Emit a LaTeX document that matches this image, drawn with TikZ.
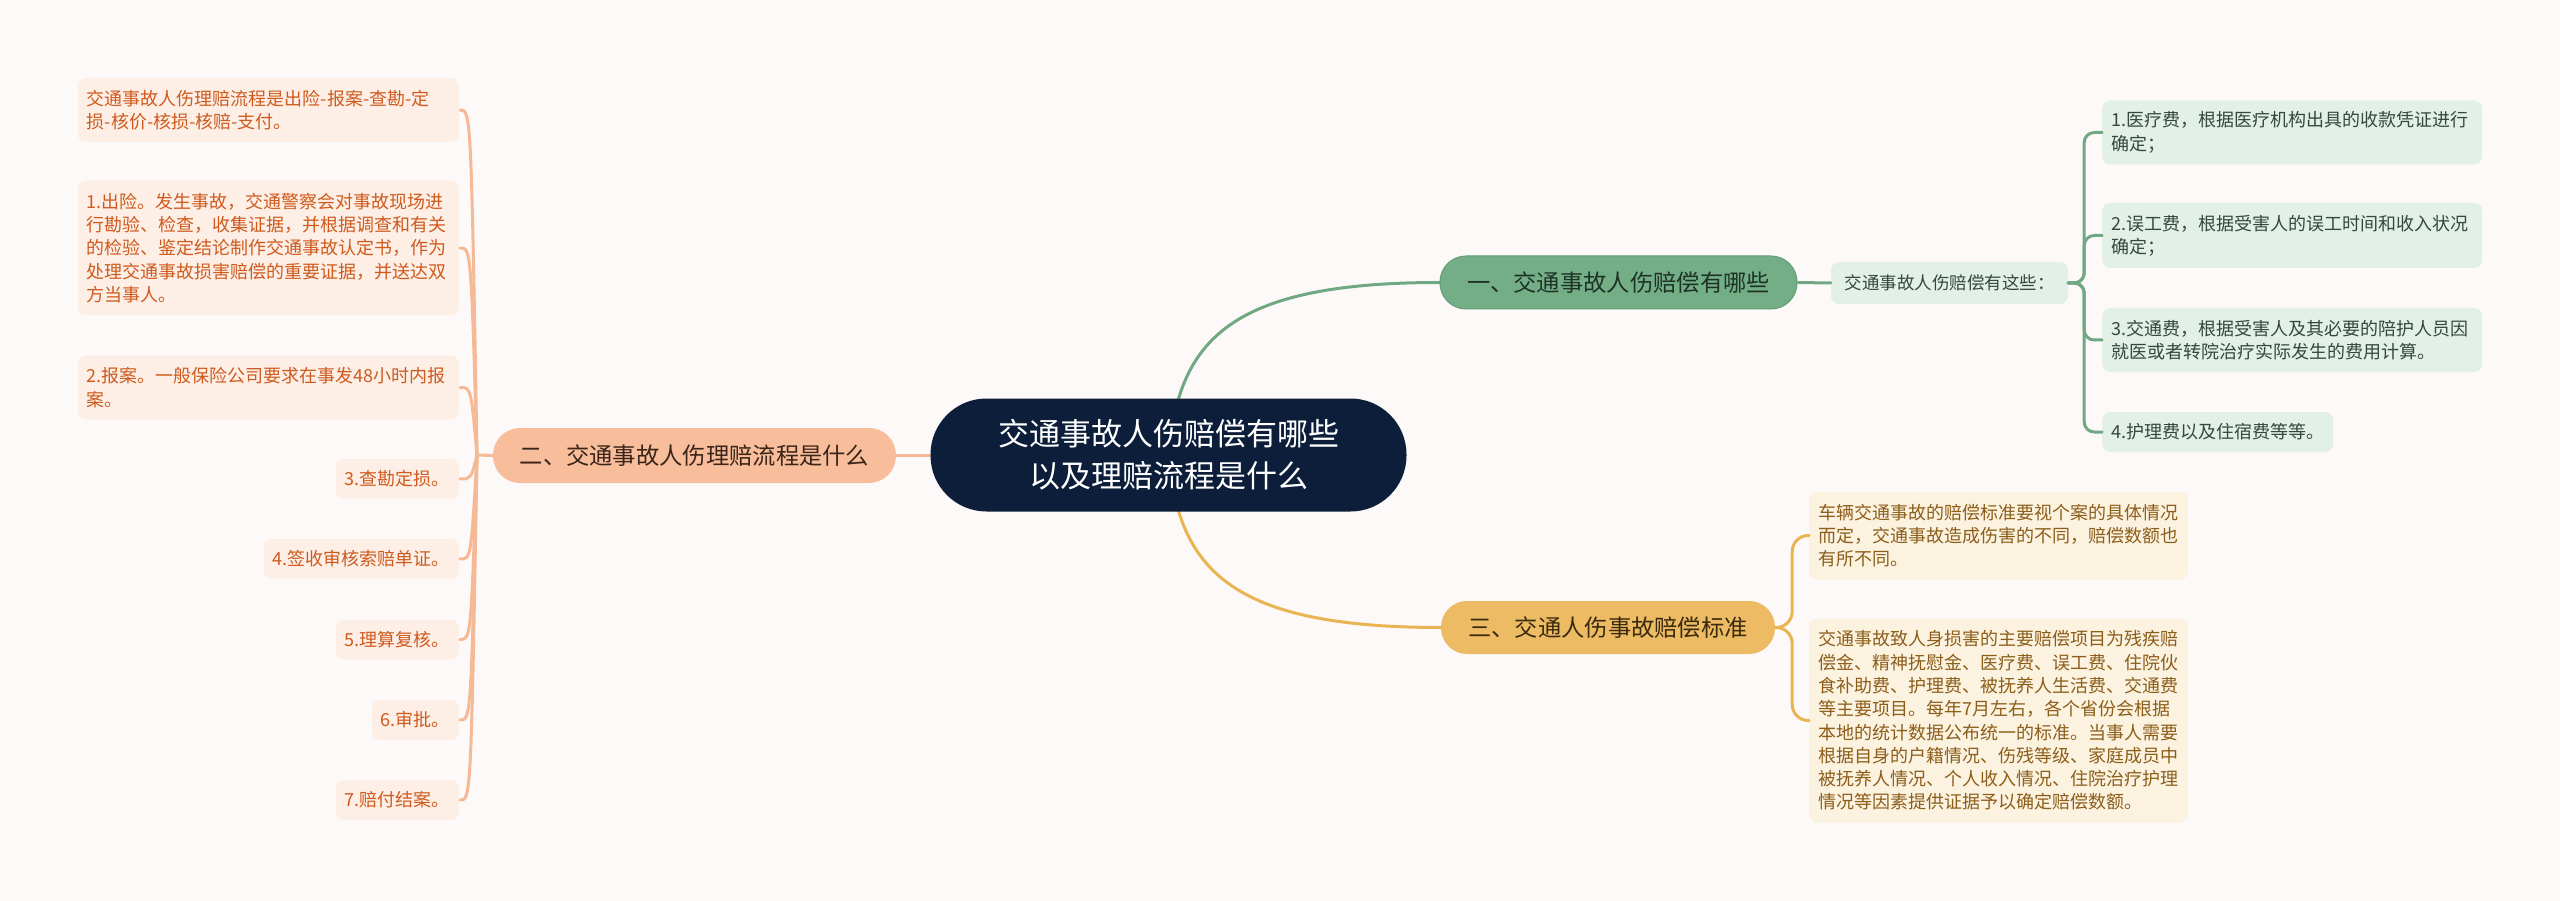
\documentclass[tikz,border=0pt]{standalone}
\usepackage{fontspec}
\newfontfamily\cjk{Noto Sans CJK SC}
\usetikzlibrary{calc}
\definecolor{bgc}{HTML}{FDF9F8}
\definecolor{lfill}{HTML}{FDEFE6}
\definecolor{ltext}{HTML}{CF5A1E}
\definecolor{lline}{HTML}{F5B995}
\definecolor{btwofill}{HTML}{F8BD9A}
\definecolor{btwotext}{HTML}{3B2418}
\definecolor{rootfill}{HTML}{0C1E3A}
\definecolor{bonefill}{HTML}{74AE87}
\definecolor{bonedraw}{HTML}{639D76}
\definecolor{bonetext}{HTML}{1E3326}
\definecolor{gline}{HTML}{6FA883}
\definecolor{rfill}{HTML}{E3F0E7}
\definecolor{rtext}{HTML}{34483B}
\definecolor{bthreefill}{HTML}{EDBB63}
\definecolor{bthreetext}{HTML}{3A2A0E}
\definecolor{yline}{HTML}{E8B552}
\definecolor{yfill}{HTML}{FCF2E0}
\definecolor{ytext}{HTML}{8C5E1A}
\pgfdeclarelayer{bglayer}
\pgfsetlayers{bglayer,main}
\tikzset{
  leaf/.style={rounded corners=8pt, inner xsep=9pt, inner ysep=4pt,
    font=\cjk\fontsize{18}{23.3}\selectfont, align=left},
  lbox/.style={leaf, fill=lfill, text=ltext},
  rbox/.style={leaf, fill=rfill, text=rtext},
  ybox/.style={leaf, fill=yfill, text=ytext},
  pill/.style={inner sep=0pt, font=\cjk\fontsize{23.3}{28}\selectfont,
    rounded corners=26pt, minimum height=53pt},
  conn/.style={line width=3pt, line cap=round},
}
\begin{document}
\begin{tikzpicture}[x=1pt,y=-1pt]
\useasboundingbox (0,0) rectangle (2560,901);
\begin{pgfonlayer}{bglayer}
\fill[bgc] (0,0) rectangle (2560,901);
\end{pgfonlayer}

% root
\node[fill=rootfill, text=white, rounded corners=56pt, minimum width=476pt,
  minimum height=113pt, inner sep=0pt, align=center,
  font=\cjk\fontsize{31}{42}\selectfont] (root) at (1168.5,455)
  {交通事故人伤赔偿有哪些\\以及理赔流程是什么};

% branches
\node[pill, fill=bonefill, draw=bonedraw, line width=1pt, text=bonetext,
  minimum width=357pt] (B1) at (1618.5,282.5) {一、交通事故人伤赔偿有哪些};
\node[pill, fill=btwofill, text=btwotext, minimum width=403pt, minimum height=55pt,
  rounded corners=27pt] (B2) at (694.5,455.5) {二、交通事故人伤理赔流程是什么};
\node[pill, fill=bthreefill, text=bthreetext, minimum width=334pt]
  (B3) at (1608,627.5) {三、交通人伤事故赔偿标准};

% left leaves
\node[lbox, text width=363pt, minimum height=64pt, anchor=east] (L0) at (459,110)
  {交通事故人伤理赔流程是出险-报案-查勘-定\\损-核价-核损-核赔-支付。};
\node[lbox, text width=363pt, minimum height=135pt, anchor=east] (L1) at (459,248)
  {1.出险。发生事故，交通警察会对事故现场进\\行勘验、检查，收集证据，并根据调查和有关\\的检验、鉴定结论制作交通事故认定书，作为\\处理交通事故损害赔偿的重要证据，并送达双\\方当事人。};
\node[lbox, text width=363pt, minimum height=64pt, anchor=east] (L2) at (459,387.5)
  {2.报案。一般保险公司要求在事发48小时内报\\案。};
\node[lbox, minimum height=40pt, anchor=east] (L3) at (459,479) {3.查勘定损。};
\node[lbox, minimum height=40pt, anchor=east] (L4) at (459,559) {4.签收审核索赔单证。};
\node[lbox, minimum height=40pt, anchor=east] (L5) at (459,639.5) {5.理算复核。};
\node[lbox, minimum height=40pt, anchor=east] (L6) at (459,720) {6.审批。};
\node[lbox, minimum height=40pt, anchor=east] (L7) at (459,800) {7.赔付结案。};

% right (green) leaves
\node[rbox, minimum width=237pt, minimum height=42pt, align=center,
  font=\cjk\fontsize{17.5}{22}\selectfont] (S1) at (1949.5,283) {交通事故人伤赔偿有这些：};
\node[rbox, text width=362pt, minimum height=64pt, anchor=west] (R1) at (2102,132.5)
  {1.医疗费，根据医疗机构出具的收款凭证进行\\确定；};
\node[rbox, text width=362pt, minimum height=65pt, anchor=west] (R2) at (2102,235.5)
  {2.误工费，根据受害人的误工时间和收入状况\\确定；};
\node[rbox, text width=362pt, minimum height=64pt, anchor=west] (R3) at (2102,340)
  {3.交通费，根据受害人及其必要的陪护人员因\\就医或者转院治疗实际发生的费用计算。};
\node[rbox, minimum height=40pt, anchor=west] (R4) at (2102,432) {4.护理费以及住宿费等等。};

% yellow leaves
\node[ybox, text width=361pt, minimum height=88pt, anchor=west] (Y1) at (1809,535.5)
  {车辆交通事故的赔偿标准要视个案的具体情况\\而定，交通事故造成伤害的不同，赔偿数额也\\有所不同。};
\node[ybox, text width=361pt, minimum height=204pt, anchor=west] (Y2) at (1809,720.5)
  {交通事故致人身损害的主要赔偿项目为残疾赔\\偿金、精神抚慰金、医疗费、误工费、住院伙\\食补助费、护理费、被抚养人生活费、交通费\\等主要项目。每年7月左右，各个省份会根据\\本地的统计数据公布统一的标准。当事人需要\\根据自身的户籍情况、伤残等级、家庭成员中\\被抚养人情况、个人收入情况、住院治疗护理\\情况等因素提供证据予以确定赔偿数额。};

% connectors
\begin{pgfonlayer}{bglayer}
\draw[conn, gline] (root.center) .. controls ($(root.center)+(10,-115)$) and ($(B1.west)+(-210,0)$) .. (B1.west);
\draw[conn, yline] (root.center) .. controls ($(root.center)+(10,115)$) and ($(B3.west)+(-210,0)$) .. (B3.west);
\draw[conn, lline] (root.center) -- (root.center -| B2.east);
\end{pgfonlayer}

\coordinate (LH) at (477,455);
\draw[conn, lline] (B2.west) -- (LH);
\foreach \n in {L0,L1,L2,L3,L4,L5,L6,L7}{
  \draw[conn, lline] (LH) .. controls ($(LH|-\n.east)+(-6,0)$) .. ([xshift=1pt]\n.east);
}

\draw[conn, gline] (B1.east) -- (S1.west);
\foreach \n in {R1,R2,R3,R4}{
  \draw[conn, gline, rounded corners=10pt] (S1.east) -- ++(16,0) |- (\n.west);
}
\foreach \n in {Y1,Y2}{
  \draw[conn, yline, rounded corners=16pt] (B3.east) -- ++(17,0) |- (\n.west);
}
\end{tikzpicture}
\end{document}
